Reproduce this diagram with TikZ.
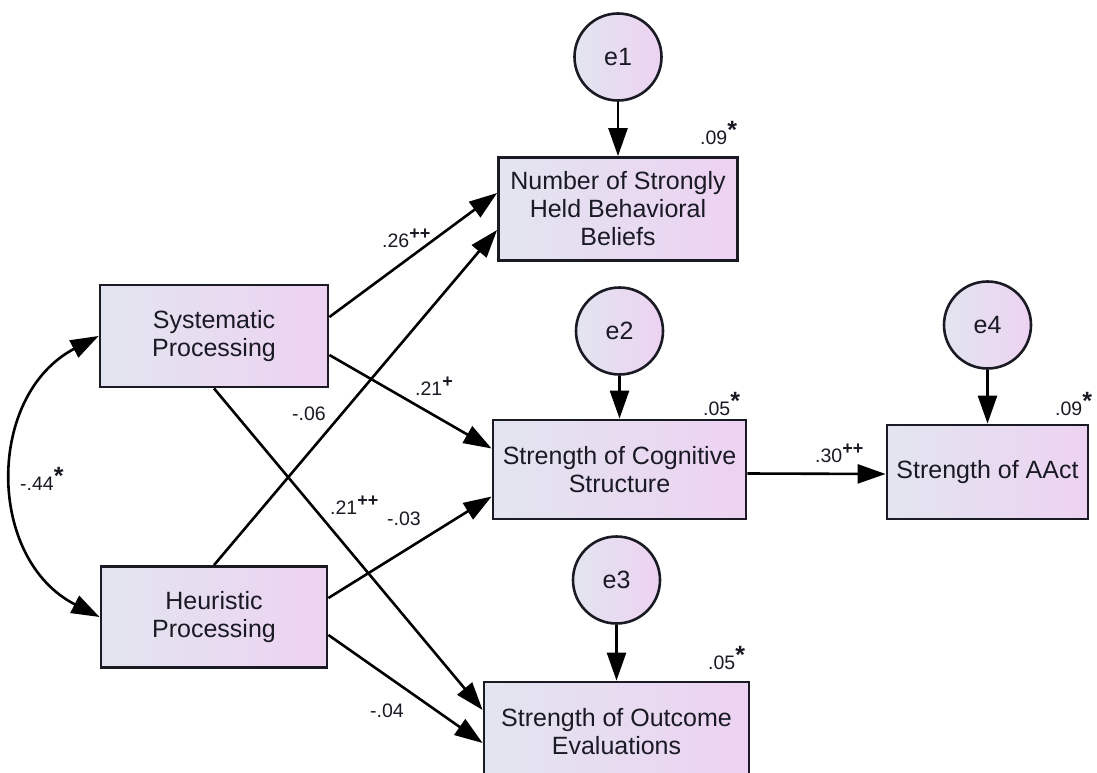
\documentclass[tikz,border=0pt]{standalone}
\usepackage{fontspec}
\setmainfont{Liberation Sans}
\usetikzlibrary{arrows.meta,calc}
\definecolor{gl}{HTML}{E2E5EF}
\definecolor{gr}{HTML}{EDD2F2}
\definecolor{ink}{HTML}{1A1A24}
\newcommand\sups[1]{\raisebox{0.36em}{\fontsize{18}{18}\selectfont\bfseries #1}}
\newcommand\sigstar{\raisebox{0.30em}{\fontsize{25}{25}\selectfont\bfseries *}}
\begin{document}
\begin{tikzpicture}[x=1pt,y=-1pt,
  box/.style={draw=ink, line width=2.8pt, left color=gl, right color=gr, align=center,
    font=\fontsize{25}{28}\selectfont, text=ink, inner sep=0pt},
  err/.style={circle, draw=ink, line width=2.6pt, left color=gl, right color=gr,
    font=\fontsize{25}{28}\selectfont, text=ink, minimum size=87pt, inner sep=0pt},
  pth/.style={line width=2.6pt, draw=black, -{Triangle[length=28pt,width=19pt]}},
  lab/.style={font=\fontsize{19.5}{22}\selectfont, text=ink, inner sep=0pt, anchor=base west}]
\useasboundingbox (0,0) rectangle (1097,773);
\clip (0,0) rectangle (1097,773);
\fill[white] (0,0) rectangle (1097,773);

% boxes
\node[box, minimum width=239pt, minimum height=103pt] (NSB) at (618,209) {Number of Strongly\\Held Behavioral\\Beliefs};
\node[box, minimum width=228pt, minimum height=102pt] (SP) at (214,336) {Systematic\\Processing};
\node[box, minimum width=226pt, minimum height=101pt] (HP) at (214,617) {Heuristic\\Processing};
\node[box, minimum width=253pt, minimum height=99pt] (SCS) at (619.5,469.5) {Strength of Cognitive\\Structure};
\node[box, minimum width=201pt, minimum height=94pt] (SAA) at (987.5,472) {Strength of AAct};
\node[box, minimum width=265pt, minimum height=100pt] (SOE) at (616.5,732) {Strength of Outcome\\Evaluations};

% error terms
\node[err] (e1) at (618,57) {e1};
\node[err] (e2) at (619.5,331) {e2};
\node[err] (e4) at (987.5,325) {e4};
\node[err] (e3) at (616.5,580) {e3};

\draw[pth] (e1.south) -- (e1.south |- NSB.north);
\draw[pth] (e2.south) -- (e2.south |- SCS.north);
\draw[pth] (e4.south) -- (e4.south |- SAA.north);
\draw[pth] (e3.south) -- (e3.south |- SOE.north);

% paths
\draw[pth] ($(SP.east)+(0,-19)$) -- ($(NSB.west)+(0,-16)$);
\draw[pth] (HP.north) -- ($(NSB.west)+(0,21)$);
\draw[pth] ($(SP.east)+(0,19)$) -- ($(SCS.west)+(0,-21)$);
\draw[pth] ($(HP.east)+(0,-19)$) -- ($(SCS.west)+(0,27)$);
\draw[pth] (SP.south) -- ($(SOE.west)+(0,-22)$);
\draw[pth] ($(HP.east)+(0,18)$) -- ($(SOE.west)+(0,11)$);
\draw[pth] ($(SCS.east)+(0,4)$) -- ($(SAA.west)+(0,2)$);

% covariance
\draw[line width=2.6pt, {Triangle[length=28pt,width=19pt]}-{Triangle[length=28pt,width=19pt]}]
  (SP.west) .. controls (-14,395) and (-14,559) .. (HP.west);

% labels
\node[lab] (r1) at (700,144) {.09\sigstar};
\node[lab] (r2) at (703,415) {.05\sigstar};
\node[lab] (r4) at (1055,415) {.09\sigstar};
\node[lab] (r3) at (708,669) {.05\sigstar};
\node[lab] (c1) at (382,247) {.26\sups{++}};
\node[lab] (c2) at (415,395) {.21\sups{+}};
\node[lab] (c3) at (292,420) {-.06};
\node[lab] (c4) at (330,514) {.21\sups{++}};
\node[lab] (c5) at (387,525) {-.03};
\node[lab] (c6) at (370,717) {-.04};
\node[lab] (c7) at (815,462) {.30\sups{++}};
\node[lab] (c8) at (20,490) {-.44\sigstar};
\end{tikzpicture}
\end{document}
